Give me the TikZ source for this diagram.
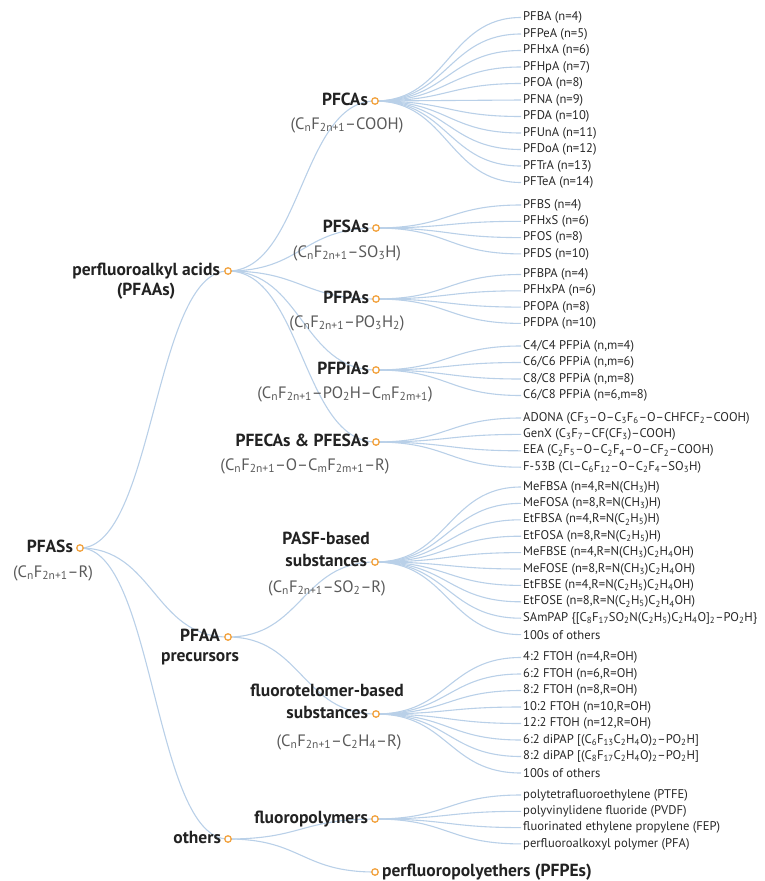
\documentclass[tikz,border=0pt]{standalone}
\usepackage{fontspec}
\setmainfont{PT Sans}
\usepackage{tikz}
\usetikzlibrary{calc,positioning,backgrounds}
\definecolor{linkblue}{RGB}{185,208,232}
\definecolor{dotorange}{RGB}{242,163,64}
\definecolor{headgray}{RGB}{34,34,34}
\definecolor{formgray}{RGB}{90,90,90}
\definecolor{leafgray}{RGB}{40,40,40}
\newcommand{\ssub}[1]{\textsubscript{#1}}
% d3-like horizontal link between two named points
\newcommand{\treelink}[2]{%
  \draw[link] let \p1=(#1), \p2=(#2) in
    (\p1) .. controls ({(\x1+\x2)/2},\y1) and ({(\x1+\x2)/2},\y2) .. (\p2);}

\begin{document}
\begin{tikzpicture}[x=1pt,y=-1pt,
		Dot/.style={circle,draw=dotorange,fill=white,line width=1.3pt,minimum size=6.5pt,inner sep=0pt},
		Head/.style={font=\fontsize{17.5}{19}\selectfont\bfseries,text=headgray,inner sep=1pt,text height=13pt,text depth=4.5pt},
		Formula/.style={font=\fontsize{16.5}{18}\selectfont,text=formgray,inner sep=1pt},
		Leaf/.style={font=\fontsize{12.6}{14}\selectfont,text=leafgray,anchor=west,inner xsep=2pt,inner ysep=0.5pt},
		link/.style={draw=linkblue,line width=1.1pt}
		]

		\useasboundingbox (0,0) rectangle (764,881);

		% root
		\node[Dot] (pfas) at (80,548) {};
		\node[Head, left=2pt of pfas] (pfaslab) {PFASs};
		\node[Formula] at (53,573) {(C\ssub{n}F\ssub{2n+1}--R)};

		% first level
		\node[Dot] (pfaa) at (228,271) {};
		\node[Head, left=3pt of pfaa] (pfaalab) {perfluoroalkyl acids};
		\node[Head, below=0.5pt of pfaalab] {(PFAAs)};

		\node[Dot] (prec) at (228,637) {};
		\node[Head, left=3pt of prec] (preclab) {PFAA};
		\node[Head, below=0.5pt of preclab] {precursors};

		\node[Dot] (oth) at (228,839) {};
		\node[Head, left=2pt of oth] {others};

		% second level, acids
		\node[Dot] (pfca) at (375,101) {};
		\node[Head, left=2pt of pfca] {PFCAs};
		\node[Formula] at (347,125) {(C\ssub{n}F\ssub{2n+1}--COOH)};

		\node[Dot] (pfsa) at (376,228) {};
		\node[Head, left=2pt of pfsa] {PFSAs};
		\node[Formula] at (347,253) {(C\ssub{n}F\ssub{2n+1}--SO\ssub{3}H)};

		\node[Dot] (pfpa) at (376,299) {};
		\node[Head, left=2pt of pfpa] {PFPAs};
		\node[Formula] at (347,323) {(C\ssub{n}F\ssub{2n+1}--PO\ssub{3}H\ssub{2})};

		\node[Dot] (pfpia) at (376,370) {};
		\node[Head, left=2pt of pfpia] {PFPiAs};
		\node[Formula] at (345,394) {(C\ssub{n}F\ssub{2n+1}--PO\ssub{2}H--C\ssub{m}F\ssub{2m+1})};

		\node[Dot] (pfeca) at (376,442) {};
		\node[Head, left=2pt of pfeca] {PFECAs \& PFESAs};
		\node[Formula] at (305,466) {(C\ssub{n}F\ssub{2n+1}--O--C\ssub{m}F\ssub{2m+1}--R)};

		% second level, precursors
		\node[Dot] (pasf) at (375,562) {};
		\node[Head, left=3pt of pasf] (pasflab) {substances};
		\node[Head, above=2pt of pasflab] {PASF-based};
		\node[Formula] at (327,588) {(C\ssub{n}F\ssub{2n+1}--SO\ssub{2}--R)};

		\node[Dot] (ftel) at (376,714) {};
		\node[Head, left=3pt of ftel] (ftellab) {substances};
		\node[Head, above=2pt of ftellab] {fluorotelomer-based};
		\node[Formula] at (339,742) {(C\ssub{n}F\ssub{2n+1}--C\ssub{2}H\ssub{4}--R)};

		% second level, others
		\node[Dot] (fpol) at (375,819) {};
		\node[Head, left=2pt of fpol] {fluoropolymers};

		\node[Dot] (pfpe) at (375,872) {};
		\node[Head, right=2pt of pfpe] {perfluoropolyethers (PFPEs)};

		% leaves
		\foreach \t [count=\i] in {PFBA (n=4),PFPeA (n=5),PFHxA (n=6),PFHpA (n=7),PFOA (n=8),PFNA (n=9),PFDA (n=10),PFUnA (n=11),PFDoA (n=12),PFTrA (n=13),PFTeA (n=14)}
			\node[Leaf] (ca\i) at (521,{17.5+16.5*(\i-1)}) {\t};

		\foreach \t [count=\i] in {PFBS (n=4),PFHxS (n=6),PFOS (n=8),PFDS (n=10)}
			\node[Leaf] (sa\i) at (521,{205+16.3*(\i-1)}) {\t};

		\foreach \t [count=\i] in {PFBPA (n=4),PFHxPA (n=6),PFOPA (n=8),PFDPA (n=10)}
			\node[Leaf] (pa\i) at (521,{274.5+16.3*(\i-1)}) {\t};

		\foreach \t [count=\i] in {{C4/C4 PFPiA (n,m=4)},{C6/C6 PFPiA (n,m=6)},{C8/C8 PFPiA (n,m=8)},{C6/C8 PFPiA (n=6,m=8)}}
			\node[Leaf] (pia\i) at (521,{346+16.5*(\i-1)}) {\t};

		\foreach \t [count=\i] in {{ADONA (CF\ssub{3}--O--C\ssub{3}F\ssub{6}--O--CHFCF\ssub{2}--COOH)},
				{GenX (C\ssub{3}F\ssub{7}--CF(CF\ssub{3})--COOH)},
				{EEA (C\ssub{2}F\ssub{5}--O--C\ssub{2}F\ssub{4}--O--CF\ssub{2}--COOH)},
				{F-53B (Cl--C\ssub{6}F\ssub{12}--O--C\ssub{2}F\ssub{4}--SO\ssub{3}H)}}
			\node[Leaf] (eca\i) at (521,{418+16.4*(\i-1)}) {\t};

		\foreach \t [count=\i] in {{MeFBSA (n=4,R=N(CH\ssub{3})H)},{MeFOSA (n=8,R=N(CH\ssub{3})H)},
				{EtFBSA (n=4,R=N(C\ssub{2}H\ssub{5})H)},{EtFOSA (n=8,R=N(C\ssub{2}H\ssub{5})H)},
				{MeFBSE (n=4,R=N(CH\ssub{3})C\ssub{2}H\ssub{4}OH)},{MeFOSE (n=8,R=N(CH\ssub{3})C\ssub{2}H\ssub{4}OH)},
				{EtFBSE (n=4,R=N(C\ssub{2}H\ssub{5})C\ssub{2}H\ssub{4}OH)},{EtFOSE (n=8,R=N(C\ssub{2}H\ssub{5})C\ssub{2}H\ssub{4}OH)},
				{SAmPAP \{[C\ssub{8}F\ssub{17}SO\ssub{2}N(C\ssub{2}H\ssub{5})C\ssub{2}H\ssub{4}O]\ssub{2}--PO\ssub{2}H\}},
				{100s of others}}
			\node[Leaf] (sf\i) at (521,{487+16.4*(\i-1)}) {\t};

		\foreach \t [count=\i] in {{4:2 FTOH (n=4,R=OH)},{6:2 FTOH (n=6,R=OH)},{8:2 FTOH (n=8,R=OH)},
				{10:2 FTOH (n=10,R=OH)},{12:2 FTOH (n=12,R=OH)},
				{6:2 diPAP [(C\ssub{6}F\ssub{13}C\ssub{2}H\ssub{4}O)\ssub{2}--PO\ssub{2}H]},
				{8:2 diPAP [(C\ssub{8}F\ssub{17}C\ssub{2}H\ssub{4}O)\ssub{2}--PO\ssub{2}H]},
				{100s of others}}
			\node[Leaf] (ft\i) at (521,{657.5+16.5*(\i-1)}) {\t};

		\foreach \t [count=\i] in {polytetrafluoroethylene (PTFE),polyvinylidene fluoride (PVDF),fluorinated ethylene propylene (FEP),perfluoroalkoxyl polymer (PFA)}
			\node[Leaf] (fp\i) at (521,{795+16.3*(\i-1)}) {\t};

		% connectors behind the dots
		\begin{scope}[on background layer]
			\treelink{pfas}{pfaa}
			\treelink{pfas}{prec}
			\treelink{pfas}{oth}
			\foreach \c in {pfca,pfsa,pfpa,pfpia,pfeca} \treelink{pfaa}{\c};
			\treelink{prec}{pasf}
			\treelink{prec}{ftel}
			\treelink{oth}{fpol}
			\treelink{oth}{pfpe}
			\foreach \i in {1,...,11} \treelink{pfca}{ca\i.west};
			\foreach \i in {1,...,4} {\treelink{pfsa}{sa\i.west} \treelink{pfpa}{pa\i.west} \treelink{pfpia}{pia\i.west} \treelink{pfeca}{eca\i.west} \treelink{fpol}{fp\i.west}}
			\foreach \i in {1,...,10} \treelink{pasf}{sf\i.west};
			\foreach \i in {1,...,8} \treelink{ftel}{ft\i.west};
		\end{scope}

\end{tikzpicture}
\end{document}
